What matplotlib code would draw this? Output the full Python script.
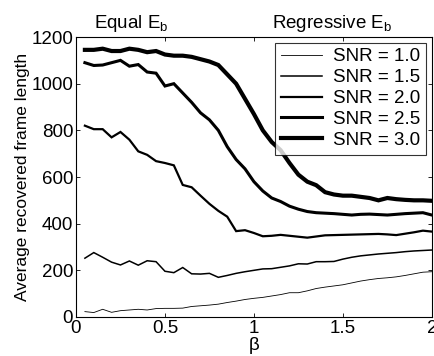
import matplotlib
matplotlib.use("Agg")
import matplotlib.pyplot as plt
import numpy as np

plt.rcParams['font.family'] = ['Liberation Sans', 'DejaVu Sans']
plt.rcParams['mathtext.fontset'] = 'custom'
plt.rcParams['mathtext.rm'] = 'Liberation Sans'
plt.rcParams['mathtext.it'] = 'Liberation Sans:italic'

beta = [round(0.05 * i, 2) for i in range(1, 41)]

snr_10 = [23, 19, 33, 20, 27, 30, 33, 30, 36, 37, 37, 38, 45, 48, 51, 55, 62, 68, 75, 80,
          84, 90, 96, 104, 104, 112, 122, 128, 133, 138, 146, 154, 160, 165, 168, 172, 178, 185, 192, 194]
snr_15 = [252, 276, 256, 235, 223, 240, 222, 241, 237, 196, 190, 212, 185, 184, 187, 170, 178, 187, 194, 200,
          206, 207, 213, 219, 228, 227, 237, 237, 238, 248, 256, 262, 266, 270, 273, 276, 280, 283, 285, 287]
snr_20 = [820, 805, 805, 770, 793, 760, 710, 695, 668, 660, 650, 566, 556, 520, 485, 455, 430, 368, 372, 360,
          346, 348, 352, 348, 344, 340, 345, 350, 351, 352, 353, 354, 355, 356, 354, 351, 357, 363, 370, 366]
snr_25 = [1090, 1078, 1080, 1090, 1100, 1075, 1082, 1050, 1045, 990, 1000, 960, 920, 875, 845, 800, 730, 675, 635, 580,
          540, 510, 495, 475, 462, 452, 447, 445, 443, 440, 437, 440, 441, 439, 437, 440, 443, 445, 447, 437]
snr_30 = [1145, 1145, 1150, 1140, 1140, 1150, 1145, 1135, 1140, 1125, 1120, 1120, 1115, 1105, 1095, 1080, 1040, 1000, 935, 870,
          800, 750, 715, 660, 610, 580, 565, 535, 525, 520, 520, 515, 510, 500, 510, 505, 502, 500, 500, 498]

series = [snr_10, snr_15, snr_20, snr_25, snr_30]
labels = ["SNR = 1.0", "SNR = 1.5", "SNR = 2.0", "SNR = 2.5", "SNR = 3.0"]
widths = [0.6, 1.1, 1.6, 2.2, 3.0]

xticks = [0, 0.5, 1, 1.5, 2]
xticklabels = ["0", "0.5", "1", "1.5", "2"]
yticks = [0, 200, 400, 600, 800, 1000, 1200]

fig = plt.figure(figsize=(4.35, 3.56), dpi=100)
ax = fig.add_axes([0.1747, 0.1096, 0.818, 0.7864])

for ys, lab, lw in zip(series, labels, widths):
    ax.plot(beta, ys, color='black', lw=lw, label=lab, solid_joinstyle='miter')

ax.set_xlim(0, 2)
ax.set_ylim(0, 1200)
ax.set_xticks(xticks)
ax.set_xticklabels(xticklabels)
ax.set_yticks(yticks)
ax.tick_params(direction='in', labelsize=13.5, length=3, width=0.6, top=True, right=True, pad=2)
for s in ax.spines.values():
    s.set_linewidth(0.8)

ax.set_xlabel("β", fontsize=13.5, labelpad=0)
ax.set_ylabel("Average recovered frame length", fontsize=12.5, labelpad=1)

ax.text(0.31, 1.01, r"Equal E$_\mathregular{b}$", transform=ax.get_xaxis_transform(),
        ha='center', va='bottom', fontsize=13.5)
ax.text(1.44, 1.01, r"Regressive E$_\mathregular{b}$", transform=ax.get_xaxis_transform(),
        ha='center', va='bottom', fontsize=13.5)

leg = ax.legend(loc='upper right', fontsize=13.5, frameon=True, fancybox=False,
                edgecolor='black', handlelength=2.2, borderaxespad=0.3,
                labelspacing=0.2, handletextpad=0.6, borderpad=0.3)
leg.get_frame().set_linewidth(0.8)

fig.savefig("out.png", dpi=100)
